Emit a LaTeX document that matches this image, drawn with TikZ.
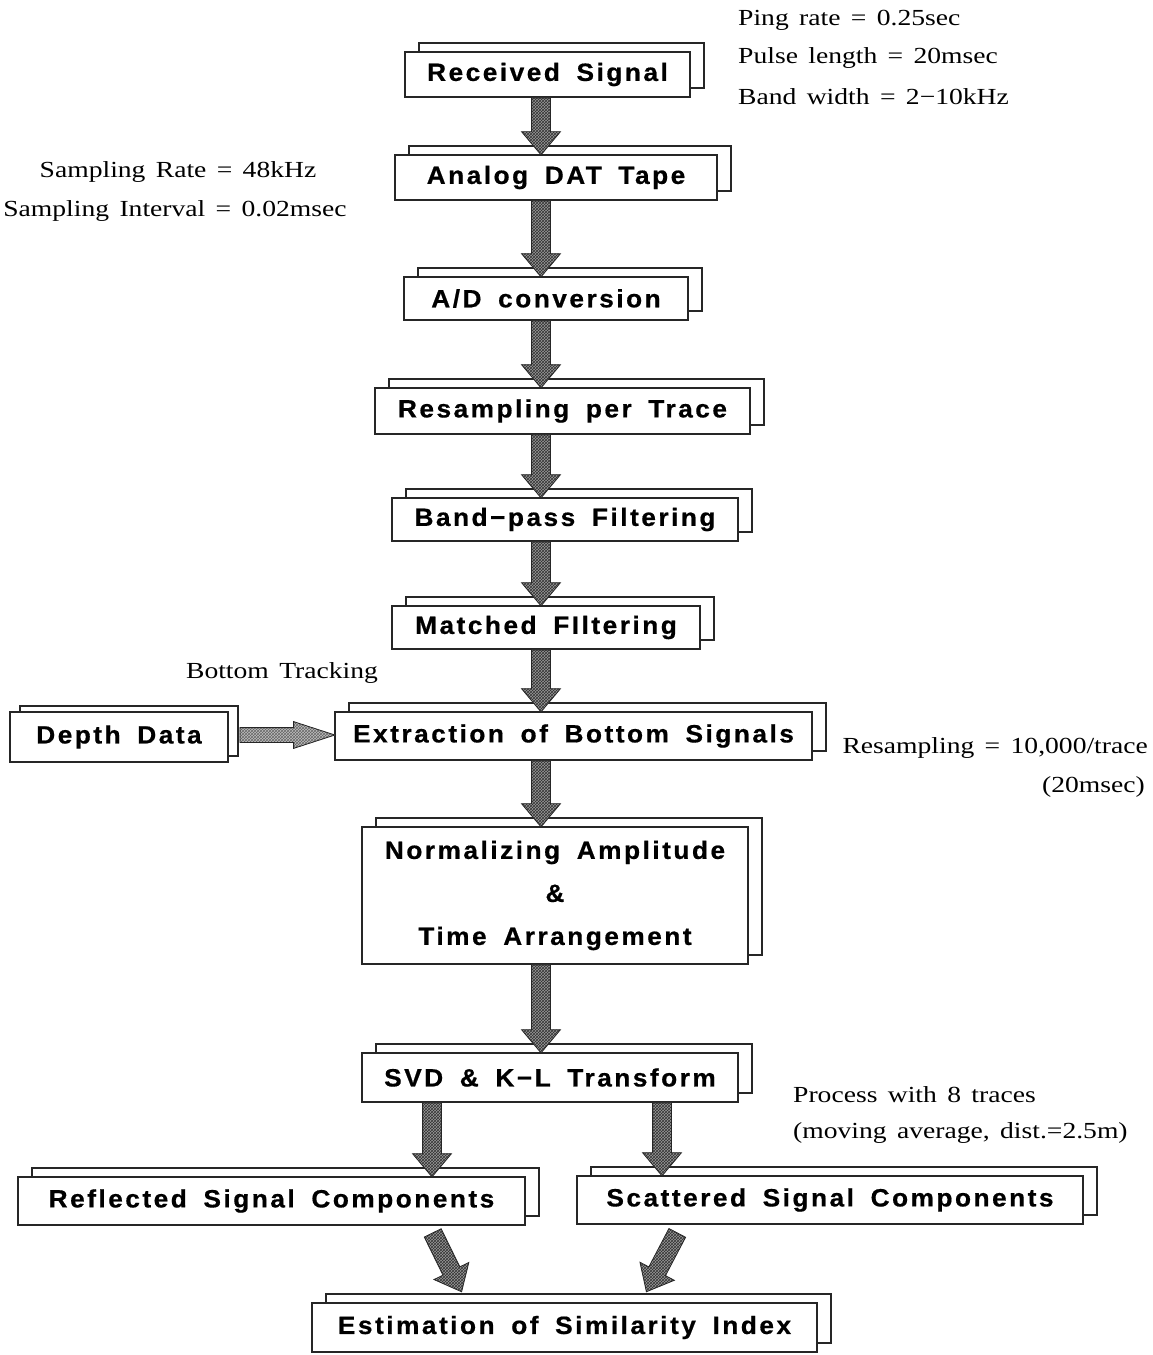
\documentclass[tikz,border=0pt]{standalone}
\usepackage{fontspec}
\usetikzlibrary{shapes.arrows,shadows,patterns,calc}
\newfontfamily\boxfont{Liberation Sans}[LetterSpace=10,WordSpace=1.7,FakeStretch=1.05,FakeBold=0.6]
\newfontfamily\lblfont{Liberation Serif}[FakeStretch=1.2,WordSpace=1.5]
\newcommand\fatarrow[3][]{\path let \p1=($(#3)-(#2)$), \n1={veclen(\x1,\y1)} in (#2) -- (#3) node[fat,#1,sloped,allow upside down,pos=0,anchor=tail,minimum height=\n1]{};}
\begin{document}
\begin{tikzpicture}[x=1pt,y=-1pt,
  boxbase/.style={draw=black!85, line width=1.1pt, fill=white, inner sep=0pt,
    font=\boxfont\bfseries\fontsize{25}{30}\selectfont},
  box/.style={boxbase,
    copy shadow={shadow xshift=14pt, shadow yshift=9pt, fill=white, draw=black!85, line width=1.1pt}},
  lbl/.style={inner sep=0pt, font=\lblfont\fontsize{23}{28}\selectfont},
  fat/.style={single arrow, draw=black!85, line width=0.8pt, preaction={fill=black!40},
    pattern=crosshatch, pattern color=black!80, inner xsep=0pt, inner ysep=9pt,
    single arrow head extend=10pt, single arrow tip angle=80},
  thinfat/.style={inner ysep=7pt, single arrow head extend=6pt, single arrow tip angle=36,
    preaction={fill=black!25}, pattern color=black!60}]
\useasboundingbox (0,0) rectangle (1152,1355);
% boxes
\node[box, minimum width=285pt, minimum height=45pt] (rec) at (547.5,74.5) {Received Signal};
\node[box, minimum width=322pt, minimum height=45pt] (dat) at (556,177.5) {Analog DAT Tape};
\node[box, minimum width=284pt, minimum height=43pt] (ad) at (546,298.5) {A/D conversion};
\node[box, minimum width=375pt, minimum height=46pt] (res) at (562.5,411) {Resampling per Trace};
\node[box, minimum width=346pt, minimum height=43pt] (band) at (565,519.5) {Band−pass Filtering};
\node[box, minimum width=308pt, minimum height=43pt] (mat) at (546,627.5) {Matched FIltering};
\node[box, minimum width=477pt, minimum height=48pt] (ext) at (573.5,736) {Extraction of Bottom Signals};
\node[boxbase, minimum width=218pt, minimum height=50pt, copy shadow={shadow xshift=10pt, shadow yshift=6pt, fill=white, draw=black!85, line width=1.1pt}] (dep) at (119,737) {Depth Data};
\node[box, minimum width=386pt, minimum height=137pt, align=center] (nor) at (555,895.5) {Normalizing Amplitude\\[13pt]\&\\[13pt]Time Arrangement};
\node[box, minimum width=376pt, minimum height=49pt] (svd) at (550,1077.5) {SVD \& K−L Transform};
\node[box, minimum width=507pt, minimum height=48pt] (ref) at (271.5,1201) {Reflected Signal Components};
\node[box, minimum width=506pt, minimum height=48pt] (sca) at (830,1200) {Scattered Signal Components};
\node[box, minimum width=505pt, minimum height=49pt] (est) at (564.5,1327.5) {Estimation of Similarity Index};
% labels
\node[lbl, anchor=west] (ping) at (738,20) {Ping rate = 0.25sec};
\node[lbl, anchor=west] (pulse) at (738,58) {Pulse length = 20msec};
\node[lbl, anchor=west] (bw) at (738,97) {Band width = 2−10kHz};
\node[lbl] (sr) at (178,172) {Sampling Rate = 48kHz};
\node[lbl] (si) at (175,211) {Sampling Interval = 0.02msec};
\node[lbl] (bt) at (282,673) {Bottom Tracking};
\node[lbl, anchor=east] (rs) at (1148,748) {Resampling = 10,000/trace};
\node[lbl, anchor=east] (rs2) at (1145,787) {(20msec)};
\node[lbl, anchor=west] (pw) at (793,1095) {Process with 8 traces};
\node[lbl, anchor=west] (pw2) at (793,1133) {(moving average, dist.=2.5m)};
% arrows
\coordinate (ax) at (541,0);
\coordinate (al) at (432,0);
\coordinate (ar) at (662,0);
\fatarrow{rec.south -| ax}{dat.north -| ax}
\fatarrow{dat.south -| ax}{ad.north -| ax}
\fatarrow{ad.south -| ax}{res.north -| ax}
\fatarrow{res.south -| ax}{band.north -| ax}
\fatarrow{band.south -| ax}{mat.north -| ax}
\fatarrow{mat.south -| ax}{ext.north -| ax}
\fatarrow{ext.south -| ax}{nor.north -| ax}
\fatarrow{nor.south -| ax}{svd.north -| ax}
\fatarrow{svd.south -| al}{ref.north -| al}
\fatarrow{svd.south -| ar}{sca.north -| ar}
\coordinate (r1) at ($(ref.south east)+(-93,7)$);
\coordinate (r2) at ($(est.north west)+(150,-11)$);
\coordinate (s1) at ($(sca.south west)+(101,8)$);
\coordinate (s2) at ($(est.north east)+(-171,-11)$);
\fatarrow{r1}{r2}
\fatarrow{s1}{s2}
\coordinate (d1) at ($(dep.east)+(11,-2)$);
\fatarrow[thinfat]{d1}{ext.west |- d1}
\end{tikzpicture}
\end{document}
